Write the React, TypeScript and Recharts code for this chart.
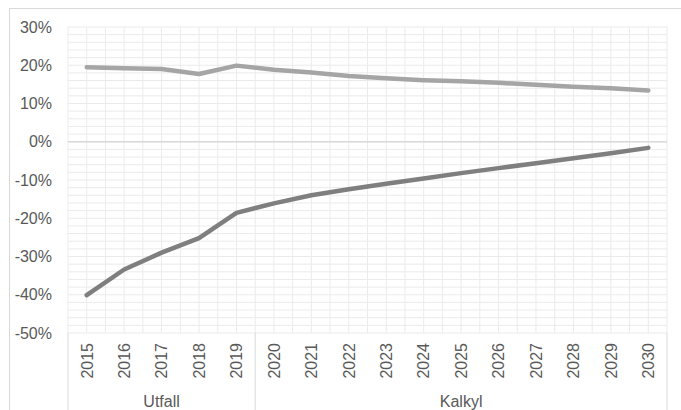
import React from "react";
import { LineChart, Line, XAxis, YAxis, CartesianGrid, ReferenceLine } from "recharts";

const years = ["2015","2016","2017","2018","2019","2020","2021","2022","2023","2024","2025","2026","2027","2028","2029","2030"];
const upperSeries = [19.5, 19.2, 19.0, 17.7, 19.9, 18.8, 18.1, 17.2, 16.6, 16.1, 15.8, 15.4, 14.9, 14.4, 14.0, 13.4];
const lowerSeries = [-40.1, -33.4, -29.0, -25.2, -18.6, -16.1, -14.0, -12.4, -11.0, -9.6, -8.2, -6.9, -5.6, -4.3, -3.0, -1.6];
const groupLabels = ["Utfall", "Kalkyl"];
const groupFirstYear = ["2015", "2020"];
const groupLastYear = ["2019", "2030"];
const yMajorTicks = [-50, -40, -30, -20, -10, 0, 10, 20, 30];
const yMinorStep = 2;

const FONT = "'Liberation Sans', Arial, sans-serif";
const TEXT = "#595959";
const SEP = "#d9d9d9";

const data = years.map((y, i) => ({ x: i, year: y, upper: upperSeries[i], lower: lowerSeries[i] }));

const yTicks: number[] = [];
for (let v = yMajorTicks[0]; v <= yMajorTicks[yMajorTicks.length - 1]; v += yMinorStep) yTicks.push(v);

const xTicks: number[] = [];
for (let i = 0; i <= years.length; i++) {
  xTicks.push(i - 0.5);
  if (i < years.length) xTicks.push(i);
}

const groups = groupLabels.map((label, g) => {
  const s = years.indexOf(groupFirstYear[g]);
  const e = years.indexOf(groupLastYear[g]);
  return { label, start: s, end: e, center: (s + e) / 2 };
});
const boundaries = [groups[0].start - 0.5, ...groups.map((g) => g.end + 0.5)];
const groupCenters = groups.map((g) => g.center);

const YTick = (props: any) => {
  const { x, y, payload } = props;
  if (!yMajorTicks.includes(payload.value)) return <g />;
  return (
    <text x={x} y={y + 5.7} textAnchor="end" fontSize={16} fontFamily={FONT} fill={TEXT}>
      {`${payload.value}%`}
    </text>
  );
};

const XTick = (props: any) => {
  const { x, y, payload } = props;
  const v = payload.value;
  if (Number.isInteger(v)) {
    return (
      <text
        transform={`translate(${x + 5.8},${y + 10}) rotate(-90)`}
        textAnchor="end"
        fontSize={16}
        fontFamily={FONT}
        fill={TEXT}
      >
        {years[v]}
      </text>
    );
  }
  if (boundaries.some((b) => Math.abs(b - v) < 1e-6)) {
    return <line x1={x} x2={x} y1={y} y2={y + 80} stroke={SEP} strokeWidth={1} />;
  }
  return <g />;
};

const GroupTick = (props: any) => {
  const { x, y, payload } = props;
  const g = groups.find((gr) => Math.abs(gr.center - payload.value) < 1e-6);
  return (
    <text x={x} y={y + 23.5} textAnchor="middle" fontSize={16} fontFamily={FONT} fill={TEXT}>
      {g ? g.label : ""}
    </text>
  );
};

export default function App() {
  return (
    <div style={{ position: "absolute", left: 0, top: 0, width: 681, height: 410, overflow: "hidden", background: "#fff" }}>
      <div
        style={{
          position: "absolute",
          left: 9,
          top: 8,
          width: 700,
          height: 500,
          border: `1px solid ${SEP}`,
          boxSizing: "border-box",
        }}
      />
      <div style={{ position: "absolute", left: 0, top: 0 }}>
        <LineChart width={681} height={410} data={data} margin={{ top: 27, right: 14, left: 0, bottom: 0 }}>
          <CartesianGrid stroke="#ebebeb" strokeWidth={1} />
          <XAxis
            dataKey="x"
            type="number"
            domain={[-0.5, years.length - 0.5]}
            ticks={xTicks}
            interval={0}
            tick={<XTick />}
            tickSize={0}
            tickMargin={0}
            tickLine={false}
            axisLine={false}
            height={50}
            allowDataOverflow
          />
          <XAxis
            xAxisId="grp"
            dataKey="x"
            type="number"
            domain={[-0.5, years.length - 0.5]}
            ticks={groupCenters}
            interval={0}
            tick={<GroupTick />}
            tickSize={0}
            tickMargin={0}
            tickLine={false}
            axisLine={false}
            height={27}
            allowDataOverflow
          />
          <YAxis
            type="number"
            domain={[yMajorTicks[0], yMajorTicks[yMajorTicks.length - 1]]}
            ticks={yTicks}
            interval={0}
            tick={<YTick />}
            tickSize={0}
            tickMargin={16}
            tickLine={false}
            axisLine={false}
            width={68}
            allowDataOverflow
          />
          <ReferenceLine y={0} stroke={SEP} strokeWidth={1.3} />
          <Line
            dataKey="upper"
            stroke="#a5a5a5"
            strokeWidth={4.5}
            strokeLinecap="round"
            strokeLinejoin="round"
            dot={false}
            activeDot={false}
            isAnimationActive={false}
          />
          <Line
            dataKey="lower"
            stroke="#7f7f7f"
            strokeWidth={4.5}
            strokeLinecap="round"
            strokeLinejoin="round"
            dot={false}
            activeDot={false}
            isAnimationActive={false}
          />
        </LineChart>
      </div>
    </div>
  );
}
